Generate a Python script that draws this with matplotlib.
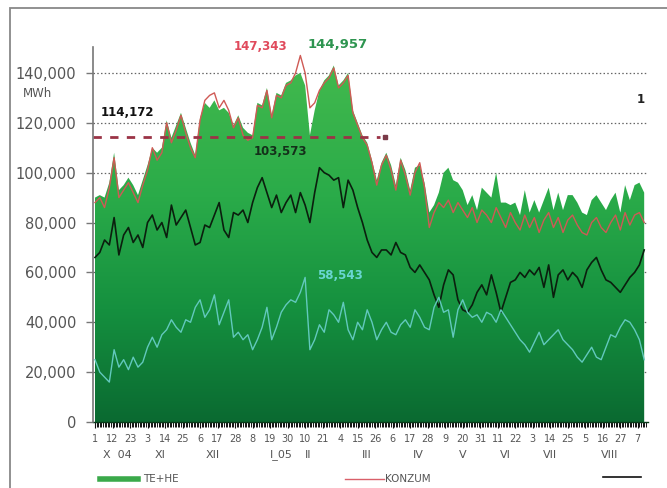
import numpy as np
import matplotlib
matplotlib.use("Agg")
import matplotlib.pyplot as plt
from matplotlib.colors import LinearSegmentedColormap
from matplotlib.lines import Line2D
from matplotlib.patches import Rectangle
import matplotlib.transforms as mtransforms

# ---- data (daily series sampled every 3 days, starting 1 Oct 2004), thousands of MWh ----
step_days = 3
te_he = [90, 91, 90, 96, 108, 93, 95, 98, 95, 91, 97, 103, 110, 108, 110, 121, 114, 119, 124, 118,
         112, 107, 122, 128, 126, 129, 125, 126, 124, 119, 123, 118, 116, 115, 128, 127, 134, 123, 132, 131,
         136, 137, 139, 140, 135, 115, 125, 133, 137, 139, 143, 135, 137, 140, 125, 120, 115, 112, 105, 97,
         104, 108, 103, 95, 106, 101, 93, 102, 103, 96, 84, 87, 92, 100, 102, 97, 96, 93, 87, 91,
         85, 94, 92, 90, 100, 88, 88, 87, 88, 83, 93, 84, 89, 84, 89, 94, 85, 92, 85, 91,
         91, 88, 84, 83, 89, 91, 88, 85, 89, 92, 84, 95, 89, 95, 96, 92]
konzum = [88, 90, 86, 94, 106, 90, 93, 96, 92, 88, 95, 101, 110, 105, 108, 120, 112, 117, 123, 116,
          110, 106, 121, 129, 131, 132, 126, 129, 125, 118, 122, 115, 113, 114, 127, 126, 133, 122, 131, 130,
          135, 136, 140, 147, 140, 126, 128, 133, 136, 138, 142, 134, 136, 139, 124, 119, 114, 111, 104, 95,
          103, 107, 101, 93, 105, 99, 91, 100, 104, 94, 78, 84, 88, 86, 89, 84, 88, 85, 82, 86,
          80, 85, 83, 80, 86, 82, 78, 84, 80, 77, 83, 78, 82, 76, 81, 84, 78, 82, 76, 81,
          83, 79, 76, 75, 80, 82, 78, 76, 80, 83, 77, 84, 79, 83, 84, 80]
black_series = [66, 68, 73, 71, 82, 67, 75, 78, 72, 75, 70, 80, 83, 77, 80, 74, 87, 79, 82, 85,
                78, 71, 72, 79, 78, 83, 88, 77, 74, 84, 83, 85, 80, 88, 94, 98, 92, 86, 91, 84,
                88, 91, 84, 92, 87, 80, 92, 102, 100, 99, 97, 98, 86, 97, 93, 86, 80, 73, 68, 66,
                69, 69, 67, 72, 68, 67, 62, 60, 63, 60, 57, 51, 46, 55, 61, 59, 49, 45, 44, 47,
                52, 55, 51, 59, 52, 44, 50, 56, 57, 60, 58, 61, 59, 62, 54, 63, 50, 59, 61, 57,
                60, 58, 54, 61, 64, 66, 61, 57, 56, 54, 52, 55, 58, 60, 63, 69]
cyan_series = [25, 20, 18, 16, 29, 22, 25, 21, 26, 22, 24, 30, 34, 30, 35, 37, 41, 38, 36, 41,
               40, 46, 49, 42, 45, 51, 39, 44, 49, 34, 36, 33, 35, 29, 33, 38, 46, 33, 38, 44,
               47, 49, 48, 52, 58, 29, 33, 39, 36, 45, 43, 40, 48, 37, 33, 40, 37, 45, 40, 33,
               37, 40, 36, 35, 39, 41, 38, 45, 42, 38, 37, 46, 50, 44, 45, 34, 45, 49, 44, 42,
               43, 40, 44, 43, 40, 45, 42, 39, 36, 33, 31, 28, 32, 36, 31, 33, 35, 37, 33, 31,
               29, 26, 24, 27, 30, 26, 25, 30, 35, 34, 38, 41, 40, 37, 33, 25]

day_tick_labels = ["1", "12", "23", "3", "14", "25", "6", "17", "28", "8", "19", "30", "10", "21",
                   "4", "15", "26", "6", "17", "28", "9", "20", "31", "11", "22", "3", "14", "25",
                   "5", "16", "27", "7"]
month_labels = ["X  04", "XI", "XII", "I_05", "II", "III", "IV", "V", "VI", "VII", "VIII"]
month_label_days = [14, 41, 74, 117, 134, 171, 203, 231, 258, 286, 323]
y_ticks = [0, 20000, 40000, 60000, 80000, 100000, 120000, 140000]
average_level = 114172
avg_line_end_day = 179

scale = 1000.0
days = np.arange(len(te_he)) * step_days
te_he_v = np.array(te_he) * scale
konzum_v = np.array(konzum) * scale
black_v = np.array(black_series) * scale
cyan_v = np.array(cyan_series) * scale

W, H = 667, 488
fig = plt.figure(figsize=(W / 100, H / 100), dpi=100)
fig.patch.set_facecolor("white")

ax_left, ax_right, ax_top, ax_bottom = 93, 648, 47, 422
ax = fig.add_axes([ax_left / W, 1 - ax_bottom / H, (ax_right - ax_left) / W, (ax_bottom - ax_top) / H])
ax.set_facecolor("white")
ax.set_xlim(-1.26, 347.4)
ax.set_ylim(0, 150400)

# grid lines (dotted) beneath area
for yv in y_ticks[1:]:
    ax.axhline(yv, color="#666666", lw=0.9, ls=(0, (1.2, 1.8)), zorder=1)

# gradient-filled area
fill = ax.fill_between(days, 0, te_he_v, facecolor="none", edgecolor="none", zorder=2)
cmap = LinearSegmentedColormap.from_list(
    "grn", [(0.0, "#0a6a31"), (0.3, "#15903f"), (0.6, "#2aab49"), (1.0, "#45bb4e")])
grad = np.linspace(0, 1, 256).reshape(-1, 1)
im = ax.imshow(grad, cmap=cmap, origin="lower", aspect="auto",
               extent=[days[0], days[-1], 0, 150000], zorder=2, interpolation="bicubic")
im.set_clip_path(fill.get_paths()[0], transform=ax.transData)
ax.set_xlim(-1.26, 347.4)
ax.set_ylim(0, 150400)

# lines
ax.plot(days, konzum_v, color="#cf5a55", lw=1.0, zorder=4)
ax.plot(days, black_v, color="#0b1f0e", lw=1.2, zorder=5)
ax.plot(days, cyan_v, color="#62c9bd", lw=1.0, zorder=5)
ax.plot([-1.26, avg_line_end_day], [average_level, average_level], color="#9b3346", lw=2.0,
        ls=(0, (3, 3)), zorder=6)
ax.plot([avg_line_end_day + 3], [average_level], marker="s", ms=2.5, color="#7a3a48", zorder=6)

# annotations
ann_font = dict(family="DejaVu Sans", fontweight="bold", fontsize=8.5)
ax.text(263 / 1.0, 0, "", transform=ax.transData)
def px2day(px):
    return (px - 95) / 1.592
def py2val(py):
    return (422 - py) / 49.86 * 20000
ax.text(px2day(261), py2val(47), "147,343", color="#e04a5c", ha="center", va="center", **ann_font)
ax.text(px2day(338), py2val(45), "144,957", color="#2e9550", ha="center", va="center",
        family="DejaVu Sans", fontweight="bold", fontsize=9.5)
ax.text(px2day(127), py2val(113), "114,172", color="#111111", ha="center", va="center", **ann_font)
ax.text(px2day(280), py2val(152), "103,573", color="#14301a", ha="center", va="center", **ann_font)
ax.text(px2day(340), py2val(276), "58,543", color="#6ad6d2", ha="center", va="center", **ann_font)
ax.text(px2day(641), py2val(100), "1", color="#222222", ha="center", va="center", **ann_font)
ax.text(-0.1, py2val(94), "MWh", transform=mtransforms.blended_transform_factory(ax.transAxes, ax.transData),
        color="#555555", ha="center", va="center", fontsize=8.5, family="DejaVu Sans")

# axes styling
for s in ["top", "right"]:
    ax.spines[s].set_visible(False)
ax.spines["left"].set_color("#777777")
ax.spines["left"].set_linewidth(1.2)
ax.spines["bottom"].set_color("#0a3a1a")
ax.spines["bottom"].set_linewidth(1.0)
ax.spines["left"].set_zorder(7)

ax.set_yticks(y_ticks)
ax.set_yticklabels([f"{v:,}" for v in y_ticks])
ax.tick_params(axis="y", length=5, width=1, color="#777777", labelcolor="#555555",
               labelsize=10.5, pad=7)
ax.set_xticks(np.arange(len(day_tick_labels)) * 11)
ax.set_xticklabels(day_tick_labels)
ax.set_xticks(np.arange(0, 347, 1), minor=True)
ax.tick_params(axis="x", which="major", length=4, width=0.8, color="#111111",
               labelcolor="#555555", labelsize=7, pad=5)
ax.tick_params(axis="x", which="minor", length=3.5, width=0.7, color="#111111")
for lbl in ax.get_yticklabels() + ax.get_xticklabels():
    lbl.set_family("DejaVu Sans")

trans = mtransforms.blended_transform_factory(ax.transData, ax.transAxes)
for lab, d in zip(month_labels, month_label_days):
    ax.text(d, -0.088, lab, transform=trans, ha="center", va="center", fontsize=8,
            color="#555555", family="DejaVu Sans")

# bottom legend
def fx(px):
    return px / W
def fy(py):
    return 1 - py / H
fig.add_artist(Line2D([fx(100), fx(138)], [fy(479), fy(479)], color="#3aa94a", lw=4))
fig.text(fx(143), fy(479), "TE+HE", color="#555555", fontsize=7.5, va="center", family="DejaVu Sans")
fig.add_artist(Line2D([fx(345), fx(384)], [fy(479), fy(479)], color="#d9606a", lw=1))
fig.text(fx(385), fy(479), "KONZUM", color="#555555", fontsize=7.5, va="center", family="DejaVu Sans")
fig.add_artist(Line2D([fx(603), fx(641)], [fy(477), fy(477)], color="#111111", lw=1.2))

# outer frame (cropped at right/bottom)
fig.add_artist(Rectangle((fx(10), -0.2), 1.2, fy(8) + 0.2, transform=fig.transFigure,
                         fill=False, edgecolor="#888888", lw=1.3))

fig.savefig("out.png", dpi=100, facecolor="white")
